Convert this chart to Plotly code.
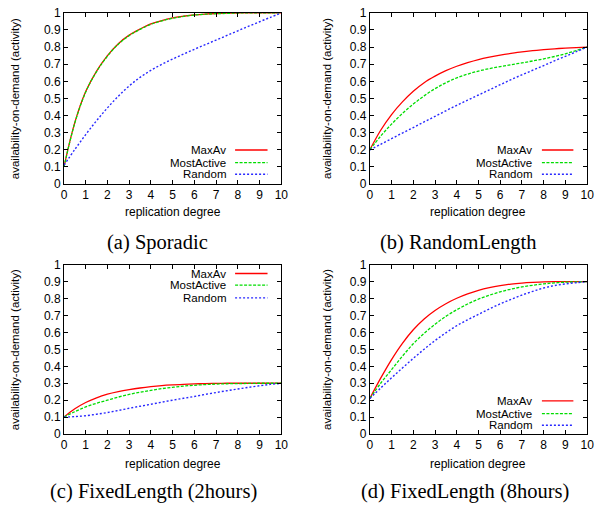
import plotly.graph_objects as go

W, H = 603, 513

X = [0, 0.5, 1, 1.5, 2, 2.5, 3, 3.5, 4, 4.5, 5, 5.5, 6, 6.5, 7, 7.5, 8, 8.5, 9, 9.5, 10]

# (a) Sporadic
a_maxav = [0.10, 0.36, 0.54, 0.66, 0.75, 0.82, 0.87, 0.905, 0.935, 0.955, 0.97, 0.98, 0.988, 0.993, 0.996, 0.998, 0.999, 1.0, 1.0, 1.0, 1.0]
a_mostactive = [0.10, 0.357, 0.537, 0.657, 0.747, 0.817, 0.867, 0.903, 0.933, 0.953, 0.968, 0.979, 0.987, 0.992, 0.995, 0.997, 0.999, 1.0, 1.0, 1.0, 1.0]
a_random = [0.11, 0.202, 0.289, 0.37, 0.445, 0.513, 0.573, 0.623, 0.664, 0.699, 0.73, 0.759, 0.787, 0.814, 0.841, 0.868, 0.895, 0.922, 0.948, 0.974, 1.0]

# (b) RandomLength
b_maxav = [0.20, 0.314, 0.406, 0.48, 0.542, 0.592, 0.63, 0.662, 0.688, 0.709, 0.727, 0.741, 0.753, 0.763, 0.772, 0.779, 0.785, 0.79, 0.794, 0.797, 0.80]
b_mostactive = [0.20, 0.28, 0.35, 0.412, 0.467, 0.515, 0.557, 0.592, 0.62, 0.642, 0.66, 0.674, 0.686, 0.697, 0.708, 0.719, 0.731, 0.745, 0.761, 0.78, 0.80]
b_random = [0.20, 0.232, 0.265, 0.298, 0.33, 0.363, 0.395, 0.428, 0.46, 0.49, 0.52, 0.55, 0.58, 0.61, 0.638, 0.665, 0.692, 0.72, 0.746, 0.773, 0.80]

# (c) FixedLength (2hours)
c_maxav = [0.10, 0.149, 0.186, 0.214, 0.235, 0.25, 0.262, 0.272, 0.28, 0.286, 0.29, 0.293, 0.296, 0.298, 0.299, 0.30, 0.30, 0.30, 0.30, 0.30, 0.30]
c_mostactive = [0.10, 0.132, 0.16, 0.182, 0.20, 0.218, 0.234, 0.247, 0.258, 0.268, 0.276, 0.283, 0.288, 0.292, 0.295, 0.297, 0.298, 0.299, 0.30, 0.30, 0.30]
c_random = [0.10, 0.103, 0.108, 0.117, 0.127, 0.139, 0.152, 0.164, 0.176, 0.188, 0.20, 0.211, 0.222, 0.234, 0.245, 0.256, 0.266, 0.276, 0.285, 0.293, 0.30]

# (d) FixedLength (8hours)
d_maxav = [0.21, 0.33, 0.44, 0.536, 0.616, 0.68, 0.73, 0.77, 0.802, 0.828, 0.849, 0.865, 0.877, 0.886, 0.892, 0.896, 0.899, 0.90, 0.90, 0.90, 0.90]
d_mostactive = [0.21, 0.30, 0.38, 0.46, 0.533, 0.595, 0.648, 0.695, 0.734, 0.768, 0.797, 0.82, 0.84, 0.856, 0.869, 0.879, 0.887, 0.893, 0.897, 0.899, 0.90]
d_random = [0.21, 0.272, 0.332, 0.39, 0.447, 0.501, 0.552, 0.598, 0.64, 0.675, 0.707, 0.739, 0.769, 0.796, 0.821, 0.843, 0.863, 0.877, 0.887, 0.894, 0.90]

series_names = ["MaxAv", "MostActive", "Random"]
captions = ["(a) Sporadic", "(b) RandomLength", "(c) FixedLength (2hours)", "(d) FixedLength (8hours)"]
x_ticks = list(range(0, 11))
y_ticks = [0, 0.1, 0.2, 0.3, 0.4, 0.5, 0.6, 0.7, 0.8, 0.9, 1]
y_ticklabels = ["0", "0.1", "0.2", "0.3", "0.4", "0.5", "0.6", "0.7", "0.8", "0.9", "1"]
x_title = "replication degree"
y_title = "availability-on-demand (activity)"

panels = [
    (a_maxav, a_mostactive, a_random),
    (b_maxav, b_mostactive, b_random),
    (c_maxav, c_mostactive, c_random),
    (d_maxav, d_mostactive, d_random),
]

colors = ["#ff0000", "#00dd00", "#2828ff"]
dashes = ["solid", "3px,1.5px", "2px,2px"]
widths = [1.3, 1.3, 1.4]

# plot area pixel boxes: (left, right, top, bottom)
boxes = [
    (62, 283, 6, 182),
    (373, 594, 6, 182),
    (62, 283, 265, 439),
    (373, 594, 265, 439),
]
# legend: (text right edge x, line x0, line x1, row ys)
legends = [
    (229, 236, 269, [147, 160, 172]),
    (540, 548, 580, [147, 160, 172]),
    (229, 236, 269, [274, 286, 299]),
    (540, 548, 580, [405, 418, 430]),
]
caption_pos = [(157, 242), (463, 242), (153, 498), (470, 498)]
xtitle_y = [211, 211, 470, 470]
ytitle_x = [13, 330, 13, 330]

def px(x):
    return x / W

def py(y):
    return 1 - y / H

fig = go.Figure()
annotations = []
shapes = []
FONT = "Liberation Sans, Arial, sans-serif"

for i, (vals, box) in enumerate(zip(panels, boxes)):
    xa = "x" if i == 0 else f"x{i+1}"
    ya = "y" if i == 0 else f"y{i+1}"
    for s, (name, v) in enumerate(zip(series_names, vals)):
        fig.add_trace(go.Scatter(
            x=X, y=v, mode="lines", name=name, showlegend=False,
            line=dict(color=colors[s], dash=dashes[s], width=widths[s], shape="spline", smoothing=1.0),
            xaxis=xa, yaxis=ya,
        ))
    l, r, t, b = box
    axis_common = dict(
        showline=True, linecolor="black", linewidth=1, mirror="ticks",
        ticks="inside", ticklen=4, tickcolor="black", tickwidth=1,
        showgrid=False, zeroline=False,
        tickfont=dict(family=FONT, size=12, color="black"),
    )
    xkey = "xaxis" if i == 0 else f"xaxis{i+1}"
    ykey = "yaxis" if i == 0 else f"yaxis{i+1}"
    fig.update_layout(**{
        xkey: dict(domain=[px(l), px(r)], range=[0, 10], tickvals=x_ticks,
                   anchor=ya, **axis_common),
        ykey: dict(domain=[py(b), py(t)], range=[0, 1], tickvals=y_ticks,
                   ticktext=y_ticklabels, anchor=xa, **axis_common),
    })
    # axis titles
    annotations.append(dict(text=x_title, x=px((l + r) / 2), y=py(xtitle_y[i]),
                            xref="paper", yref="paper", showarrow=False,
                            xanchor="center", yanchor="middle",
                            font=dict(family=FONT, size=12, color="black")))
    annotations.append(dict(text=y_title, x=px(ytitle_x[i]), y=py((t + b) / 2),
                            xref="paper", yref="paper", showarrow=False, textangle=-90,
                            xanchor="center", yanchor="middle",
                            font=dict(family=FONT, size=11.5, color="black")))
    # caption
    cx, cy = caption_pos[i]
    annotations.append(dict(text=captions[i], x=px(cx), y=py(cy), xref="paper", yref="paper",
                            showarrow=False, xanchor="center", yanchor="middle",
                            font=dict(family="Liberation Serif, Times New Roman, serif", size=20.5, color="black")))
    # legend
    tx, lx0, lx1, rows = legends[i]
    for s, name in enumerate(series_names):
        annotations.append(dict(text=name, x=px(tx), y=py(rows[s]), xref="paper", yref="paper",
                                showarrow=False, xanchor="right", yanchor="middle",
                                font=dict(family=FONT, size=11.5, color="black")))
        shapes.append(dict(type="line", xref="paper", yref="paper",
                           x0=px(lx0), x1=px(lx1), y0=py(rows[s]), y1=py(rows[s]),
                           line=dict(color=colors[s], dash=dashes[s], width=widths[s])))

fig.update_layout(
    width=W, height=H, margin=dict(l=0, r=0, t=0, b=0),
    paper_bgcolor="white", plot_bgcolor="white",
    annotations=annotations, shapes=shapes, showlegend=False,
)

fig.write_html("out.html")
